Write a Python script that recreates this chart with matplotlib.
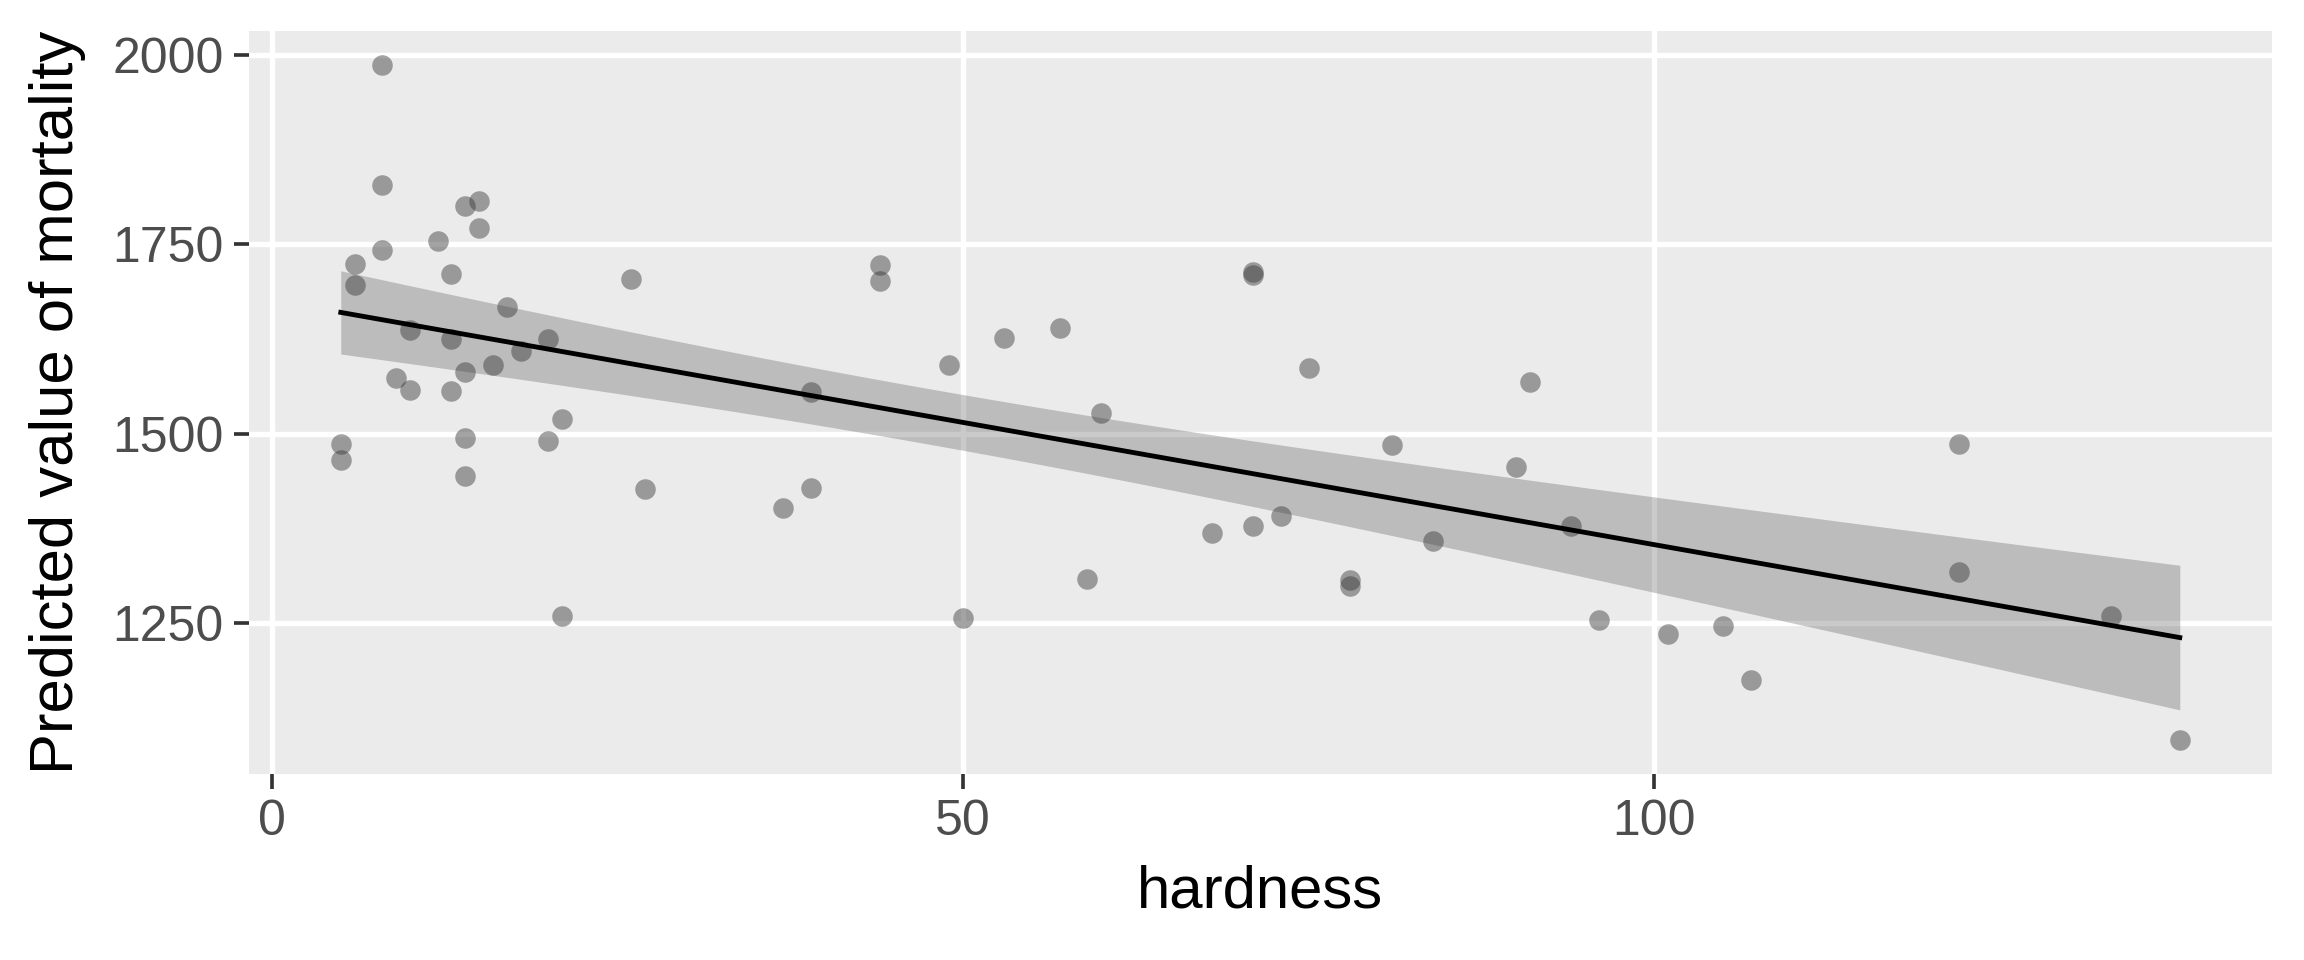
import numpy as np
import matplotlib
matplotlib.use("Agg")
import matplotlib.pyplot as plt

# water hardness vs mortality (61 towns)
hardness = [105, 17, 5, 14, 18, 10, 15, 78, 10, 84, 73, 12, 21, 78, 96, 20,
            39, 39, 122, 21, 44, 94, 8, 9, 91, 138, 16, 37, 15, 8, 26, 44,
            14, 59, 133, 27, 6, 107, 5, 90, 6, 101, 13, 14, 49, 8, 14, 68,
            50, 75, 71, 13, 57, 71, 13, 20, 60, 53, 122, 81, 71]
mortality = [1247, 1668, 1466, 1800, 1609, 1558, 1807, 1299, 1637, 1359, 1392,
             1755, 1519, 1307, 1254, 1491, 1555, 1428, 1318, 1260, 1723, 1379,
             1742, 1574, 1569, 1096, 1591, 1402, 1772, 1828, 1704, 1702, 1581,
             1309, 1259, 1427, 1724, 1175, 1486, 1456, 1696, 1236, 1711, 1444,
             1591, 1987, 1495, 1369, 1257, 1587, 1713, 1557, 1640, 1709, 1625,
             1625, 1527, 1627, 1486, 1485, 1378]
x_ticks = [0, 50, 100]
y_ticks = [1250, 1500, 1750, 2000]

plt.rcParams["font.family"] = ["Liberation Sans", "DejaVu Sans"]

x = np.array(hardness, dtype=float)
y = np.array(mortality, dtype=float)
n = len(x)

# linear fit + 95% confidence band (like geom_smooth(method="lm"))
slope, intercept = np.polyfit(x, y, 1)
resid = y - (intercept + slope * x)
s = np.sqrt((resid ** 2).sum() / (n - 2))
t_crit = 2.0010  # t(0.975, df=59)
xs = np.linspace(x.min(), x.max(), 80)
fit = intercept + slope * xs
se = s * np.sqrt(1.0 / n + (xs - x.mean()) ** 2 / ((x - x.mean()) ** 2).sum())

fig = plt.figure(figsize=(9.6, 4), dpi=240)
ax = fig.add_axes([0.108, 0.194, 0.878, 0.7737])
ax.set_facecolor("#EBEBEB")

ax.scatter(x, y, s=38, color="#383838", alpha=0.46, linewidths=0, zorder=3)
ax.fill_between(xs, fit - t_crit * se, fit + t_crit * se, color="#525252",
                alpha=0.3, linewidth=0, zorder=2)
ax.plot(xs, fit, color="black", linewidth=1.45, zorder=4)

xr = x.max() - x.min()
yr = y.max() - y.min()
ax.set_xlim(x.min() - 0.05 * xr, x.max() + 0.05 * xr)
ax.set_ylim(y.min() - 0.05 * yr, y.max() + 0.05 * yr)
ax.set_xticks(x_ticks)
ax.set_yticks(y_ticks)

ax.grid(True, color="white", linewidth=1.6, zorder=1)
ax.set_axisbelow(True)
for sp in ax.spines.values():
    sp.set_visible(False)
ax.tick_params(axis="both", colors="#333333", length=4.5, width=1.1,
               labelsize=15, labelcolor="#4D4D4D", pad=3)

ax.set_xlabel("hardness", fontsize=18, labelpad=6)
ax.set_ylabel("Predicted value of mortality", fontsize=18.5, labelpad=8)

fig.savefig("out.png", dpi=240)
